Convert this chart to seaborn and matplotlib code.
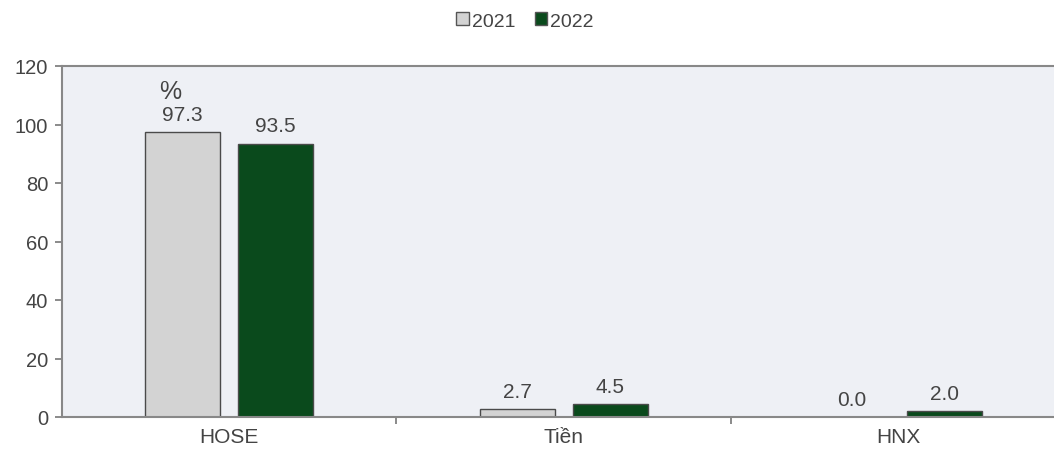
import matplotlib
matplotlib.use("Agg")
import matplotlib.pyplot as plt
import seaborn as sns
import pandas as pd
from matplotlib.patches import Patch

categories = ["HOSE", "Tiền", "HNX"]
years = ["2021", "2022"]
values_2021 = [97.3, 2.7, 0.0]
values_2022 = [93.5, 4.5, 2.0]
y_ticks = [0, 20, 40, 60, 80, 100, 120]

df = pd.DataFrame({
    "cat": categories * 2,
    "year": [years[0]] * 3 + [years[1]] * 3,
    "val": values_2021 + values_2022,
})

sns.set_style("white")
plt.rcParams["font.family"] = ["Liberation Sans", "DejaVu Sans"]
text_color = "#444444"

fig = plt.figure(figsize=(10.54, 4.52), dpi=100)
ax = fig.add_axes([62 / 1054, 1 - 418 / 452, 1003.5 / 1054, (418 - 67) / 452])
ax.set_facecolor("#eef0f5")

palette = {"2021": "#d3d3d3", "2022": "#0a4a1c"}
sns.barplot(data=df, x="cat", y="val", hue="year", palette=palette,
            width=0.556, gap=0.19, ax=ax, legend=False,
            edgecolor="#4a4a4a", linewidth=1.0, saturation=1)

ax.set_ylim(0, 120)
ax.set_xlim(-0.5, 2.5)
ax.set_yticks(y_ticks)
ax.set_xlabel("")
ax.set_ylabel("")
ax.tick_params(axis="y", labelsize=14.5, colors=text_color, length=5,
               width=1.2, direction="out", left=True, pad=5)
ax.tick_params(axis="x", labelsize=15, colors=text_color, length=0, pad=7)
ax.set_xticks([0, 1, 2])
ax.set_xticklabels(categories)
ax.set_xticks([0.5, 1.5], minor=True)
ax.tick_params(axis="x", which="minor", length=5, width=1.2, color="#777777",
               direction="out", bottom=True)
ax.tick_params(axis="y", color="#777777")

for s in ["top", "left", "bottom", "right"]:
    ax.spines[s].set_color("#888888")
    ax.spines[s].set_linewidth(1.5)

# data labels
for cont, vals in zip(ax.containers, [values_2021, values_2022]):
    for bar, v in zip(cont, vals):
        ax.annotate(f"{v:.1f}", (bar.get_x() + bar.get_width() / 2, bar.get_height()),
                    xytext=(0, 6), textcoords="offset points", ha="center", va="bottom",
                    fontsize=15, color=text_color)

# percent sign above first bar
b0 = ax.containers[0][0]
ax.annotate("%", (b0.get_x() + b0.get_width() / 2, b0.get_height()),
            xytext=(-9, 21), textcoords="offset points", ha="center", va="bottom",
            fontsize=18, color=text_color)

handles = [Patch(facecolor=palette[y], edgecolor="#555555", linewidth=1.0) for y in years]
fig.legend(handles, years, loc="center", bbox_to_anchor=(525 / 1054, 1 - 22 / 452),
           ncol=2, frameon=False, fontsize=14, handlelength=0.65, handleheight=0.65,
           handletextpad=0.15, columnspacing=1.0, labelcolor=text_color)

fig.savefig("out.png", dpi=100)
